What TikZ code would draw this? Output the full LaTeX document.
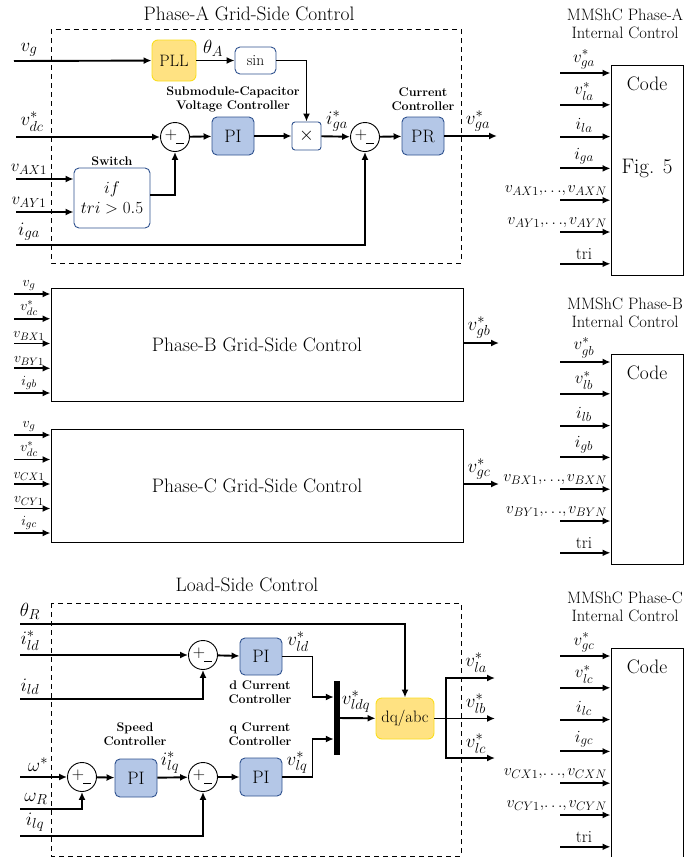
\RequirePackage{fix-cm}
\documentclass[tikz,border=0pt]{standalone}
\usepackage{amsmath}
\usetikzlibrary{arrows.meta,positioning,calc}
\definecolor{bluefill}{RGB}{180,199,231}
\definecolor{bluedk}{RGB}{47,82,143}
\definecolor{ylwfill}{RGB}{255,226,130}
\definecolor{ylwline}{RGB}{250,222,30}
\DeclareMathSizes{19}{19}{14.5}{11}
\DeclareMathSizes{17}{17}{13}{10}
\DeclareMathSizes{16}{16}{12.3}{9}
\DeclareMathSizes{15}{15}{11.5}{9}
\DeclareMathSizes{14}{14}{10.8}{8}
\tikzset{
  blk/.style={draw=bluedk,fill=bluefill,rounded corners=5pt,line width=0.9pt,minimum width=42pt,minimum height=38pt,font=\fontsize{18}{18}\selectfont},
  ylw/.style={draw=ylwline,fill=ylwfill,rounded corners=6pt,line width=0.9pt,font=\fontsize{16.5}{16.5}\selectfont},
  wbox/.style={draw=bluedk,fill=white,rounded corners=5pt,line width=0.9pt},
  sumc/.style={circle,draw,line width=0.9pt,minimum size=29pt,inner sep=0pt,fill=white},
  sig/.style={line width=1.9pt,-{Latex[length=8pt,width=7pt]}},
  wire/.style={line width=1.9pt},
  lab/.style={font=\fontsize{19}{19}\selectfont,inner sep=1pt},
  ilab/.style={font=\fontsize{17}{17}\selectfont,inner sep=1pt},
  slab/.style={font=\fontsize{14}{14}\selectfont,inner sep=1pt},
  ttl/.style={font=\fontsize{19.5}{21}\selectfont},
  bld/.style={font=\bfseries\fontsize{12.5}{14}\selectfont,align=center},
  grp/.style={draw,line width=0.9pt,dash pattern=on 5pt off 4pt},
  plain/.style={draw,line width=1pt}
}
% plus and minus marks inside a summing junction
\newcommand{\sumsigns}[1]{%
  \node[font=\fontsize{17}{17}\selectfont,inner sep=0pt] at ([xshift=-4pt,yshift=1.5pt]#1.center) {$+$};
  \draw[line width=0.9pt] ([xshift=1pt,yshift=-6pt]#1.center) -- ++(8,0);}
% tight comma-dots list for the internal-control inputs
\newcommand{\vlist}[2]{{\fontsize{16}{16}\selectfont$v_{#1},\mkern-3mu\dots\mkern-3mu,\mkern-1mu v_{#2}$}}

\begin{document}
\begin{tikzpicture}[x=1pt,y=-1pt]
\useasboundingbox (0,0) rectangle (689,857);

% ---------- Phase-A grid-side control
\node[ttl] at (249,14) {Phase-A Grid-Side Control};
\draw[grp] (51,29) rectangle (461,263);
\node[ylw,minimum width=44pt,minimum height=41pt] (pll) at (174,60.5) {PLL};
\node[wbox,minimum width=41pt,minimum height=27pt,font=\fontsize{15.5}{15.5}\selectfont] (sinb) at (255.5,60.5) {sin};
\node[sumc] (s1) at (175,137) {};
\sumsigns{s1}
\node[blk] (pi1) at (233,136) {PI};
\node[wbox,minimum width=29pt,minimum height=28pt,rounded corners=3pt,font=\fontsize{19}{19}\selectfont] (mul) at (306.5,136) {$\times$};
\node[sumc] (s2) at (365,137) {};
\sumsigns{s2}
\node[blk] (pr) at (423,136) {PR};
\node[wbox,minimum width=76pt,minimum height=60pt,align=center,font=\fontsize{17}{20}\selectfont] (swb) at (112,198) {$if$\\$tri>0.5$};

\node[bld] at (233,99) {Submodule-Capacitor\\Voltage Controller};
\node[bld] at (423,99) {Current\\Controller};
\node[bld] at (112,161) {Switch};

\coordinate (vgin) at (14,61);
\coordinate (vdcin) at (16,137);
\coordinate (vaxin) at (16,179);
\coordinate (vayin) at (16,212);
\coordinate (igain) at (16,245);
\coordinate (vgaout) at (497,136);

\draw[sig] (vgin) -- (pll);
\draw[sig] (pll) -- (sinb);
\draw[sig] (sinb.east) -| (mul.north);
\draw[sig] (vdcin) -- (s1);
\draw[sig] (s1) -- (pi1);
\draw[sig] (pi1) -- (mul);
\draw[sig] (mul) -- (s2);
\draw[sig] (s2) -- (pr);
\draw[sig] (pr) -- (vgaout);
\draw[sig] (vaxin) -- (vaxin -| swb.west);
\draw[sig] (vayin) -- (vayin -| swb.west);
\draw[sig] ([yshift=3pt]swb.east) -| (s1.south);
\draw[sig] (igain) -| (s2.south);

\node[lab,anchor=south] at (29,58) {$v_g$};
\node[lab,anchor=south] at (213,58) {$\theta_A$};
\node[lab,anchor=south] at (32,133) {$v^*_{dc}$};
\node[lab,anchor=south,font=\fontsize{17}{17}\selectfont] at (29,176) {$v_{AX1}$};
\node[lab,anchor=south,font=\fontsize{17}{17}\selectfont] at (29,209) {$v_{AY1}$};
\node[lab,anchor=south] at (29,242) {$i_{ga}$};
\node[lab,anchor=south] at (337,133) {$i^*_{ga}$};
\node[lab,anchor=south] at (478,133) {$v^*_{ga}$};

% ---------- Phase-B and Phase-C grid-side control
\node[plain,minimum width=412pt,minimum height=113pt,font=\fontsize{19.5}{19.5}\selectfont] (gsb) at (257,344.5) {Phase-B Grid-Side Control};
\node[plain,minimum width=412pt,minimum height=113pt,font=\fontsize{19.5}{19.5}\selectfont] (gsc) at (257,485.5) {Phase-C Grid-Side Control};
\foreach \k/\t in {0/{$v_g$},1/{$v^*_{dc}$},2/{$v_{BX1}$},3/{$v_{BY1}$},4/{$i_{gb}$}}{
  \pgfmathsetmacro\yy{294+24.75*\k}
  \coordinate (bin\k) at (14,\yy);
  \draw[sig] (bin\k) -- (bin\k -| gsb.west);
  \node[slab,anchor=south] at (29,\yy-2) {\t};
}
\foreach \k/\t in {0/{$v_g$},1/{$v^*_{dc}$},2/{$v_{CX1}$},3/{$v_{CY1}$},4/{$i_{gc}$}}{
  \pgfmathsetmacro\yy{435+24.5*\k}
  \coordinate (cin\k) at (14,\yy);
  \draw[sig] (cin\k) -- (cin\k -| gsc.west);
  \node[slab,anchor=south] at (29,\yy-2) {\t};
}
\coordinate (vgbout) at (499,343);
\coordinate (vgcout) at (499,484);
\draw[sig] (gsb.east |- vgbout) -- (vgbout);
\draw[sig] (gsc.east |- vgcout) -- (vgcout);
\node[lab,anchor=south] at (479,340) {$v^*_{gb}$};
\node[lab,anchor=south] at (479,481) {$v^*_{gc}$};

% ---------- load-side control
\node[ttl] at (247,585) {Load-Side Control};
\draw[grp] (51,603) rectangle (461,856);
\node[sumc] (sd) at (203,655) {};
\sumsigns{sd}
\node[blk,minimum height=37pt] (pid) at (261,656.5) {PI};
\node[sumc] (sspd) at (82,777) {};
\sumsigns{sspd}
\node[blk] (piw) at (136,778) {PI};
\node[sumc] (sq) at (203,777) {};
\sumsigns{sq}
\node[blk] (piq) at (261,777) {PI};
\node[fill=black,minimum width=6pt,minimum height=74pt,inner sep=0pt] (bar) at (337,718) {};
\node[ylw,minimum width=58pt,minimum height=41pt] (dqabc) at (405,718.5) {dq/abc};

\node[bld] at (260,692) {d Current\\Controller};
\node[bld] at (260,734) {q Current\\Controller};
\node[bld] at (135,734) {Speed\\Controller};

\coordinate (thin) at (20,624);
\coordinate (idsin) at (20,655);
\coordinate (idin) at (20,699);
\coordinate (wsin) at (20,777);
\coordinate (wrin) at (20,809);
\coordinate (iqin) at (20,836);
\coordinate (spl) at (446,718.5);
\coordinate (vlaout) at (495,678);
\coordinate (vlbout) at (495,718.5);
\coordinate (vlcout) at (495,758);

\draw[sig] (thin) -| (dqabc.north);
\draw[sig] (idsin) -- (sd);
\draw[sig] (idin) -| (sd.south);
\draw[sig] (sd) -- (pid);
\draw[sig] (pid.east) -- ++(30,0) |- ([yshift=21pt]bar.west);
\draw[sig] (wsin) -- (sspd);
\draw[sig] (wrin) -| (sspd.south);
\draw[sig] (sspd) -- (piw);
\draw[sig] (piw) -- (sq);
\draw[sig] (iqin) -| (sq.south);
\draw[sig] (sq) -- (piq);
\draw[sig] (piq.east) -- ++(30,0) |- ([yshift=-21pt]bar.west);
\draw[sig] (bar) -- (dqabc);
\draw[wire] (dqabc.east) -- (spl);
\draw[sig] (spl) |- (vlaout);
\draw[sig] (spl) -- (vlbout);
\draw[sig] (spl) |- (vlcout);

\node[lab,anchor=south] at (30,621) {$\theta_R$};
\node[lab,anchor=south] at (30,652) {$i^*_{ld}$};
\node[lab,anchor=south] at (30,696) {$i_{ld}$};
\node[lab,anchor=south] at (38,773) {$\omega^*$};
\node[lab,anchor=south] at (36,806) {$\omega_R$};
\node[lab,anchor=south] at (35,833) {$i_{lq}$};
\node[lab,anchor=south] at (298,653) {$v^*_{ld}$};
\node[lab,anchor=south] at (170,775) {$i^*_{lq}$};
\node[lab,anchor=south] at (297,775) {$v^*_{lq}$};
\node[lab,anchor=south] at (356,714) {$v^*_{ldq}$};
\node[lab,anchor=south] at (476,674) {$v^*_{la}$};
\node[lab,anchor=south] at (476,715) {$v^*_{lb}$};
\node[lab,anchor=south] at (476,755) {$v^*_{lc}$};

% ---------- MMShC internal control
\foreach \p/\P/\dy in {a/A/0,b/B/289,c/C/583}{
  \node[plain,minimum width=72pt,minimum height=210pt,anchor=north] (code\p) at (647,65+\dy) {};
  \node[font=\fontsize{19.5}{19.5}\selectfont] at (647,84+\dy) {Code};
  \node[font=\fontsize{16.5}{18}\selectfont,align=center] at (625,24+\dy) {MMShC Phase-\P\\Internal Control};
  \foreach \k/\an/\xx/\t in {0/south/584/{$v^*_{g\p}$},1/south/584/{$v^*_{l\p}$},2/south/584/{$i_{l\p}$},3/south/584/{$i_{g\p}$},4/south east/608/{\vlist{\P X1}{\P XN}},5/south east/608/{\vlist{\P Y1}{\P YN}},6/south/584/{tri}}{
    \pgfmathsetmacro\yy{73+31.8*\k+\dy}
    \coordinate (in\p\k) at (560,\yy);
    \draw[sig] (in\p\k) -- (in\p\k -| code\p.west);
    \node[ilab,anchor=\an] at (\xx,\yy-3) {\t};
  }
}
\node[font=\fontsize{21}{21}\selectfont] at (647,168) {Fig. 5};
\end{tikzpicture}
\end{document}
